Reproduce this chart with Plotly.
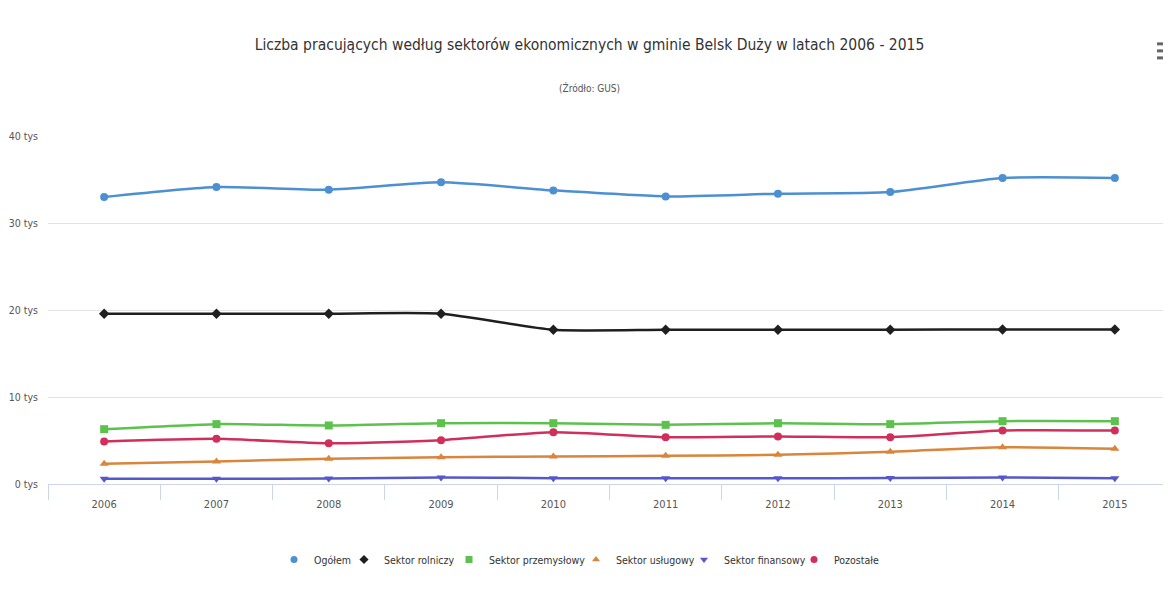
import plotly.graph_objects as go

years = ["2006", "2007", "2008", "2009", "2010", "2011", "2012", "2013", "2014", "2015"]

ogolem = [32980, 34130, 33830, 34670, 33750, 33060, 33370, 33560, 35170, 35170]
rolniczy = [19570, 19570, 19570, 19570, 17730, 17730, 17730, 17730, 17760, 17760]
przemyslowy = [6300, 6880, 6730, 6990, 6990, 6800, 6990, 6880, 7220, 7220]
uslugowy = [2320, 2590, 2900, 3080, 3160, 3240, 3360, 3700, 4230, 4050]
finansowy = [600, 600, 620, 750, 670, 670, 670, 680, 750, 670]
pozostale = [4890, 5200, 4690, 5040, 5960, 5380, 5460, 5380, 6150, 6150]

y_ticks = [0, 10000, 20000, 30000, 40000]
y_labels = ["0 tys", "10 tys", "20 tys", "30 tys", "40 tys"]

FONT = "DejaVu Sans Condensed, sans-serif"

series = [
    ("Ogółem", ogolem, "#4d8fd3", "circle"),
    ("Sektor rolniczy", rolniczy, "#1f1f1f", "diamond"),
    ("Sektor przemysłowy", przemyslowy, "#5cc24d", "square"),
    ("Sektor usługowy", uslugowy, "#d9853b", "triangle-up"),
    ("Sektor finansowy", finansowy, "#5757cc", "triangle-down"),
    ("Pozostałe", pozostale, "#d02f5b", "circle"),
]
# page x where each legend text starts (roughly as in the original)
legend_text_x = [314, 384, 489, 616, 724, 834]

fig = go.Figure()
for name, vals, col, sym in series:
    fig.add_trace(go.Scatter(
        x=years, y=vals, name=name, mode="lines+markers", showlegend=False,
        line=dict(color=col, width=2.5, shape="spline", smoothing=0.6),
        marker=dict(symbol=sym, size=8, color=col),
    ))

# legend entries: marker only, each in its own small legend so spacing is tight
legends = {}
for i, (name, vals, col, sym) in enumerate(series):
    key = "legend" if i == 0 else "legend%d" % (i + 1)
    fig.add_trace(go.Scatter(
        x=[None], y=[None], name=name, mode="markers", legend=key,
        marker=dict(symbol=sym, size=7, color=col),
    ))
    legends[key] = dict(
        x=(legend_text_x[i] - 8 - 40 - 40) / 1123, xanchor="left",
        y=-0.217, yanchor="middle", bgcolor="rgba(0,0,0,0)",
        font=dict(size=10.5, color="#333333", family=FONT),
        itemwidth=30,
    )

# page body has an 8px margin, so the figure is drawn 8px right/down
fig.update_layout(
    width=1163, height=604,
    paper_bgcolor="white", plot_bgcolor="white",
    margin=dict(l=40, r=0, t=128, b=128),
    font=dict(family=FONT, color="#333333"),
    title=dict(
        text="Liczba pracujących według sektorów ekonomicznych w gminie Belsk Duży w latach 2006 - 2015",
        x=0.5, xanchor="center", xref="container", y=0.94, yanchor="middle",
        font=dict(size=15.5, color="#333333", family=FONT),
    ),
    showlegend=True,
    xaxis=dict(
        type="category", range=[-0.5, 9.5],
        tickson="boundaries", ticks="outside", ticklen=15, tickcolor="#ccd6eb",
        ticklabelstandoff=10,
        showline=True, linecolor="#ccd6eb", linewidth=1,
        showgrid=False, tickfont=dict(size=11, color="#555555"),
    ),
    yaxis=dict(
        range=[0, 40000], tickvals=y_ticks, ticktext=y_labels,
        showgrid=True, gridcolor="#e3e3e3", gridwidth=1,
        zeroline=False, showline=False, ticks="",
        ticklabelstandoff=9,
        tickfont=dict(size=10.5, color="#555555"),
    ),
)
fig.update_layout(**legends)

fig.add_annotation(
    text="(Źródło: GUS)", xref="paper", yref="paper", x=0.4826, y=1.162,
    showarrow=False, font=dict(size=10, color="#555555", family=FONT),
)

# hamburger menu icon
for yy in [36, 43, 50]:
    fig.add_shape(type="rect", xref="paper", yref="paper",
                  x0=(1149 - 40) / 1123, x1=(1162 - 40) / 1123,
                  y0=(475.5 - yy - 1.5) / 347.5, y1=(475.5 - yy + 1.5) / 347.5,
                  fillcolor="#666666", line=dict(width=0))

fig.write_html("out.html")
